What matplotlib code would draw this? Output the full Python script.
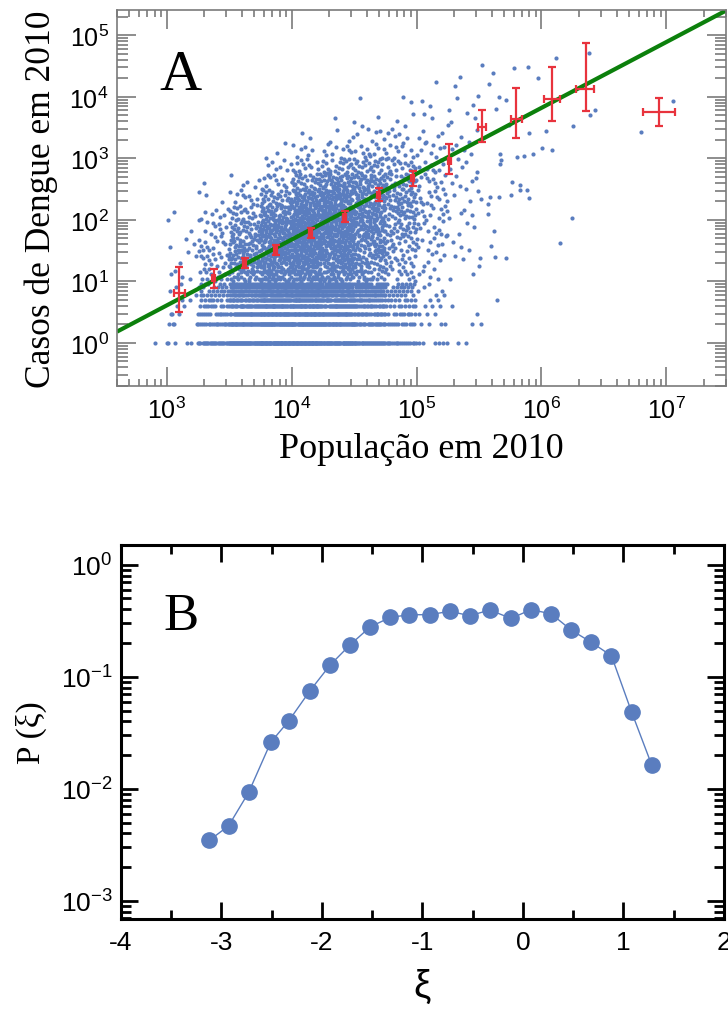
import numpy as np
import matplotlib.pyplot as plt
from matplotlib.ticker import LogLocator, MultipleLocator, NullFormatter

plt.rcParams['font.family'] = ['Liberation Sans', 'DejaVu Sans']
plt.rcParams['axes.unicode_minus'] = False
SERIF = ['Liberation Serif', 'DejaVu Serif']

# ---- panel A: municipalities, dengue cases vs population (2010) ----
# point density of the cloud: log10 population bin edges (cols) x log10 cases bin edges (rows)
CLOUD_LOGX = [3.0, 3.25, 3.5, 3.75, 4.0, 4.25, 4.5, 4.75, 5.0, 5.25]
CLOUD_LOGY = [1.0, 1.25, 1.5, 1.75, 2.0, 2.25, 2.5, 2.75, 3.0, 3.25, 3.5, 3.75, 4.0, 4.25]
CLOUD_COUNTS = [
    [4, 16, 38, 58, 60, 48, 30, 14, 5, 2],
    [3, 15, 38, 62, 70, 58, 36, 17, 6, 3],
    [3, 12, 36, 62, 74, 66, 42, 20, 8, 3],
    [2, 10, 30, 58, 74, 70, 48, 25, 10, 3],
    [1, 7, 20, 46, 68, 70, 52, 30, 12, 4],
    [0, 3, 10, 28, 52, 58, 48, 30, 12, 4],
    [0, 1, 5, 12, 30, 42, 38, 26, 11, 5],
    [0, 0, 0, 8, 14, 22, 24, 18, 10, 5],
    [0, 0, 0, 2, 6, 10, 12, 10, 8, 4],
    [0, 0, 0, 0, 2, 4, 6, 6, 5, 3],
    [0, 0, 0, 0, 0, 1, 3, 3, 3, 3],
    [0, 0, 0, 0, 0, 0, 1, 2, 2, 3],
    [0, 0, 0, 0, 0, 0, 0, 0, 1, 2],
    [0, 0, 0, 0, 0, 0, 0, 0, 0, 1],
]

# municipalities with 1..9 cases: counts per log10 population bin
LEVEL_LOGX = [3.0, 3.25, 3.5, 3.75, 4.0, 4.25, 4.5, 4.75, 5.0, 5.25]
LEVEL_CASES = [1, 2, 3, 4, 5, 6, 7, 8, 9]
LEVEL_COUNTS = [
    [4, 26, 46, 56, 54, 44, 32, 18, 6, 2],
    [2, 18, 36, 46, 46, 38, 26, 12, 4, 1],
    [2, 14, 30, 40, 40, 33, 22, 10, 3, 1],
    [2, 11, 26, 35, 36, 30, 20, 9, 3, 1],
    [2, 9, 23, 32, 33, 28, 18, 8, 2, 0],
    [1, 8, 21, 29, 31, 26, 17, 7, 2, 0],
    [1, 7, 19, 27, 29, 24, 16, 7, 2, 0],
    [1, 6, 17, 25, 27, 23, 15, 6, 1, 0],
    [1, 5, 16, 24, 26, 22, 14, 6, 1, 0],
]

# smallest and largest municipalities, one by one
BIG_POP = [813, 1020, 1050, 1150, 1100,
           335e3, 410e3, 381e3, 608e3, 787e3, 933e3, 1.30e6, 2.39e6, 2.67e6, 2.47e6,
           1.80e6, 1.22e6, 1.005e6, 1.08e6, 857e3, 726e3, 634e3, 802e3, 11.2e6, 6.31e6,
           458e3, 518e3, 429e3, 551e3, 586e3, 670e3, 679e3, 767e3, 802e3, 465e3,
           473e3, 470e3, 1.76e6, 1.42e6, 518e3, 424e3, 437e3, 391e3, 418e3, 388e3,
           458e3, 571e3, 374e3, 374e3, 329e3, 331e3, 325e3]
BIG_CASES = [1, 1, 2, 2, 3,
             33000, 24800, 16400, 29900, 30600, 20300, 43400, 52400, 6050, 5080,
             3300, 1360, 1470, 2800, 1170, 1100, 1045, 2560, 8570, 2690,
             9950, 8910, 6300, 3460, 416, 367, 308, 308, 223, 1170,
             946, 805, 106, 42, 24, 25, 5, 37, 65, 234,
             232, 253, 126, 179, 218, 2, 24]

# binned averages with error bars
BIN_POP = [1254, 2377, 4230, 7490, 14260, 26700, 49900, 93300, 182300, 334800,
           631000, 1.216e6, 2.27e6, 8.79e6]
BIN_POP_LO = [1143, 2310, 4110, 7280, 13860, 25950, 48500, 90700, 177000, 311000,
              575000, 1.05e6, 1.89e6, 6.5e6]
BIN_POP_HI = [1400, 2450, 4350, 7700, 14670, 27450, 51300, 95900, 187500, 363000,
              699000, 1.42e6, 2.65e6, 11.7e6]
BIN_CASES = [6.4, 11.2, 19.9, 32.7, 60.4, 112, 253, 472, 891, 3174, 4326, 9380, 13640, 5560]
BIN_CASES_LO = [3.15, 7.9, 16.5, 27.1, 50.1, 91, 200, 358, 554, 1853, 2152, 3970, 5840, 3296]
BIN_CASES_HI = [16.9, 15.9, 24.0, 39.0, 72.8, 137, 328, 620, 1702, 6050, 14160, 31000, 75000, 9490]

# power-law fit: log10(cases) = FIT_LOGA + FIT_SLOPE * log10(pop)
FIT_SLOPE = 1.07
FIT_LOGA = -2.60

# ---- panel B: distribution of the residuals ----
XI = [-3.12, -2.93, -2.73, -2.51, -2.33, -2.12, -1.92, -1.72, -1.52, -1.32, -1.13, -0.93,
      -0.73, -0.53, -0.33, -0.12, 0.08, 0.28, 0.48, 0.68, 0.88, 1.08, 1.28]
P_XI = [0.00348, 0.00467, 0.00929, 0.0260, 0.0405, 0.0750, 0.127, 0.193, 0.279, 0.339,
        0.358, 0.358, 0.384, 0.351, 0.394, 0.332, 0.397, 0.365, 0.261, 0.203, 0.154,
        0.0487, 0.0164]

BLUE = '#5a7dbf'
RED = '#e8333d'
GREEN = '#0c800c'
GRAY = '#7a7a7a'


def vdc(n, base):
    q, denom = 0.0, 1.0
    while n:
        n, r = divmod(n, base)
        denom *= base
        q += r / denom
    return q


# spread each bin's points over the bin area
pop, cases = [], []
cell = 0
for j, ly in enumerate(CLOUD_LOGY):
    for i, lx in enumerate(CLOUD_LOGX):
        for k in range(CLOUD_COUNTS[j][i]):
            u = (vdc(k + 1, 2) + cell * 0.618034) % 1
            v = (vdc(k + 1, 3) + cell * 0.754878) % 1
            pop.append(10 ** (lx + 0.25 * u))
            cases.append(round(10 ** (ly + 0.25 * v)))
        cell += 1
for j, c in enumerate(LEVEL_CASES):
    for i, lx in enumerate(LEVEL_LOGX):
        for k in range(LEVEL_COUNTS[j][i]):
            u = (vdc(k + 1, 2) + cell * 0.618034) % 1
            pop.append(10 ** (lx + 0.25 * u))
            cases.append(c)
        cell += 1
pop += BIG_POP
cases += BIG_CASES

fig = plt.figure(figsize=(7.28, 10.12), dpi=100)

ax = fig.add_axes([0.1607, 0.6176, 0.8365, 0.3715])
ax.set_xscale('log')
ax.set_yscale('log')
ax.set_xlim(400, 3e7)
ax.set_ylim(0.2, 2.57e5)

ax.scatter(pop, cases, s=9, color=BLUE, linewidths=0, zorder=1)
fx = np.array(ax.get_xlim())
ax.plot(fx, 10 ** FIT_LOGA * fx ** FIT_SLOPE, color=GREEN, lw=3.0, zorder=2,
        solid_capstyle='butt')
bp = np.array(BIN_POP)
bc = np.array(BIN_CASES)
ax.errorbar(bp, bc,
            xerr=[bp - np.array(BIN_POP_LO), np.array(BIN_POP_HI) - bp],
            yerr=[bc - np.array(BIN_CASES_LO), np.array(BIN_CASES_HI) - bc],
            fmt='none', ecolor=RED, elinewidth=1.6, capsize=3.2, capthick=1.6, zorder=3)

ax.xaxis.set_major_locator(LogLocator(base=10, numticks=20))
ax.xaxis.set_minor_locator(LogLocator(base=10, subs=range(2, 10), numticks=20))
ax.xaxis.set_minor_formatter(NullFormatter())
ax.yaxis.set_major_locator(LogLocator(base=10, numticks=20))
ax.yaxis.set_minor_locator(LogLocator(base=10, subs=range(2, 10), numticks=20))
ax.yaxis.set_minor_formatter(NullFormatter())
ax.tick_params(which='both', direction='in', top=True, right=True, color=GRAY, width=1.2,
               labelsize=18)
ax.tick_params(axis='x', which='major', length=13.5, pad=8)
ax.tick_params(axis='x', which='minor', length=5)
ax.tick_params(axis='y', which='major', length=13.5, pad=6)
ax.tick_params(axis='y', which='minor', length=8)
for s in ax.spines.values():
    s.set_color(GRAY)
    s.set_linewidth(1.2)
ax.set_xlabel('População em 2010', family=SERIF, fontsize=26, labelpad=6)
ax.set_ylabel('Casos de Dengue em 2010', family=SERIF, fontsize=25.5, labelpad=8)
ax.text(0.105, 0.79, 'A', transform=ax.transAxes, family=SERIF, fontsize=42,
        ha='center', va='baseline')

ax2 = fig.add_axes([0.1662, 0.0909, 0.8283, 0.3696])
ax2.set_yscale('log')
ax2.set_xlim(-4, 2)
ax2.set_ylim(6.9e-4, 1.5)
ax2.plot(XI, P_XI, '-o', color=BLUE, lw=1.0, ms=11, mec=BLUE)
ax2.xaxis.set_major_locator(MultipleLocator(1))
ax2.xaxis.set_minor_locator(MultipleLocator(0.5))
ax2.yaxis.set_major_locator(LogLocator(base=10, numticks=20))
ax2.yaxis.set_minor_locator(LogLocator(base=10, subs=range(2, 10), numticks=20))
ax2.yaxis.set_minor_formatter(NullFormatter())
ax2.tick_params(which='both', direction='in', top=True, right=True, width=2.0,
                labelsize=19)
ax2.tick_params(axis='x', which='major', length=12.5, pad=8)
ax2.tick_params(axis='x', which='minor', length=6.5)
ax2.tick_params(axis='y', which='major', length=12.5, pad=6)
ax2.tick_params(axis='y', which='minor', length=7)
for s in ax2.spines.values():
    s.set_linewidth(2.2)
ax2.set_xlabel('ξ', family=['Liberation Sans', 'DejaVu Sans'], fontsize=28, labelpad=10)
ax2.set_ylabel('P (ξ)', family=SERIF + ['DejaVu Sans'], fontsize=24, labelpad=10)
ax2.text(0.1, 0.775, 'B', transform=ax2.transAxes, family=SERIF, fontsize=38,
         ha='center', va='baseline')

fig.savefig('out.png', dpi=100)
